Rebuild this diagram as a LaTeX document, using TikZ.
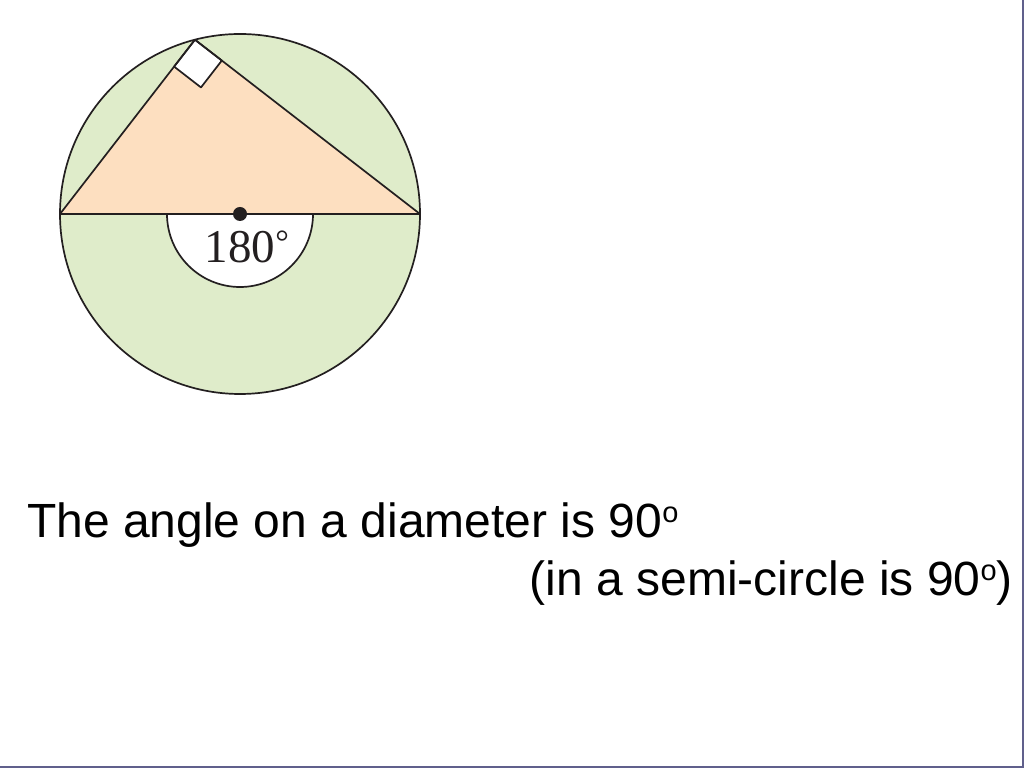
\documentclass[tikz,border=0pt]{standalone}
\usepackage{fontspec}
\setmainfont{Liberation Sans}
\newfontfamily\figserif{Liberation Serif}
\definecolor{circgreen}{RGB}{223,236,202}
\definecolor{triorange}{RGB}{253,223,192}
\definecolor{inkline}{RGB}{35,31,32}
\definecolor{framecol}{RGB}{96,96,140}
\newcommand{\supdeg}{\raisebox{15pt}{\fontsize{29}{29}\selectfont o}}
\newcommand{\ringdeg}{\raisebox{9pt}{\fontsize{34}{34}\selectfont °}}
\tikzset{
  outline/.style={draw=inkline, line width=1.7pt, line join=round},
  caption/.style={inner sep=0pt, font=\fontsize{48}{56}\selectfont},
  anglelabel/.style={inner sep=0pt, anchor=base, font=\figserif\fontsize{47}{50}\selectfont, text=inkline}
}
\begin{document}
\begin{tikzpicture}[x=1pt,y=1pt]
\useasboundingbox (0,0) rectangle (1024,768);
\fill[white] (0,0) rectangle (1024,768);
% geometry
\coordinate (O) at (240,554);
\coordinate (B) at (60,554);
\coordinate (C) at (420,554);
\coordinate (A) at (194.93,728.27);
\coordinate (P1) at (174.09,701.40);
\coordinate (P2) at (200.98,680.56);
\coordinate (P3) at (221.83,707.46);
\coordinate (S) at (313,554);
% fills
\fill[circgreen] (O) circle (180);
\fill[triorange] (B) -- (A) -- (C) -- cycle;
\draw[outline, fill=white] (S) arc (0:-180:73) -- cycle;
\draw[outline, fill=white] (A) -- (P1) -- (P2) -- (P3) -- cycle;
% outlines
\draw[outline] (O) circle (180);
\draw[outline] (B) -- (A) -- (C) -- cycle;
\fill[inkline] (O) circle (7);
\node[anglelabel] (ang) at (247,505) {180\ringdeg};
% captions
\node[caption, anchor=base west] (line1) at (27,230) {The angle on a diameter is 90\supdeg};
\node[caption, anchor=base east] (line2) at (1013,172) {(in a semi-circle is 90\supdeg)};
% frame
\draw[framecol, line width=2pt] (1023,768) -- (1023,1) -- (0,1);
\end{tikzpicture}
\end{document}
